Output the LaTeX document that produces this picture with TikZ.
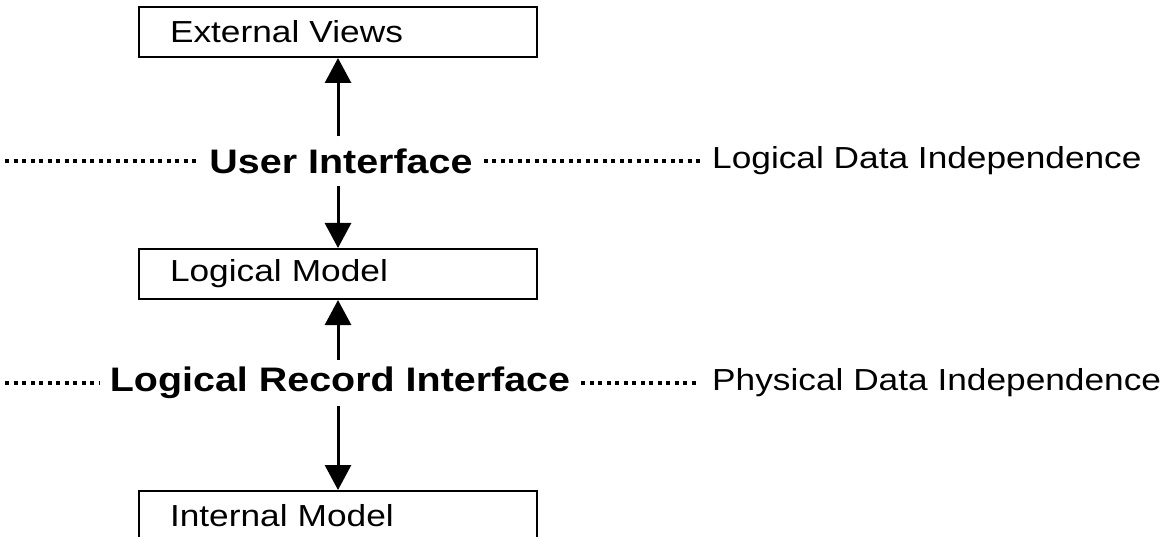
\documentclass[tikz,border=0pt]{standalone}
\usepackage{fontspec}
\setmainfont{Liberation Sans}
\newfontfamily\labfont[FakeStretch=1.16]{Liberation Sans}
\usetikzlibrary{arrows.meta}
\begin{document}
\begin{tikzpicture}[x=1pt,y=-1pt,
  box/.style={draw, line width=2pt, minimum width=398pt, minimum height=50pt,
    text width=336pt, inner xsep=31pt, align=left,
    font=\labfont\fontsize{30.4}{32}\selectfont},
  iface/.style={font=\labfont\bfseries\fontsize{34}{36}\selectfont, inner xsep=11pt},
  note/.style={font=\labfont\fontsize{30.4}{32}\selectfont, anchor=west, inner xsep=12pt, inner ysep=0pt},
  dots/.style={line width=3.2pt, dash pattern=on 4pt off 4.5pt},
  arr/.style={line width=3pt, -{Triangle[length=25pt,width=26pt]}}]
\useasboundingbox (0,0) rectangle (1174,537);
\node[box] (ev) at (338,32) {External Views};
\node[box] (lm) at (338,274) {Logical Model};
\node[box] (im) at (338,516) {Internal Model};
\node[iface, inner ysep=12pt] (ui) at (341,161) {User Interface};
\node[iface, inner ysep=7pt] (lri) at (340,383) {Logical Record Interface};
\node[note] (ldi) at (700,161) {Logical Data Independence};
\node[note] (pdi) at (700,383) {Physical Data Independence};
\coordinate (d1) at (5,161);
\coordinate (d2) at (5,383);
\draw[dots] (d1) -- (ui.west |- d1);
\draw[dots] (ui.east |- d1) -- (ldi.west);
\draw[dots] (d2) -- (lri.west |- d2);
\draw[dots] (lri.east |- d2) -- (pdi.west);
\draw[arr] (ui.north -| ev.south) -- (ev.south);
\draw[arr] (ui.south -| lm.north) -- (lm.north);
\draw[arr] (lri.north -| lm.south) -- (lm.south);
\draw[arr] (lri.south -| im.north) -- (im.north);
\end{tikzpicture}
\end{document}
